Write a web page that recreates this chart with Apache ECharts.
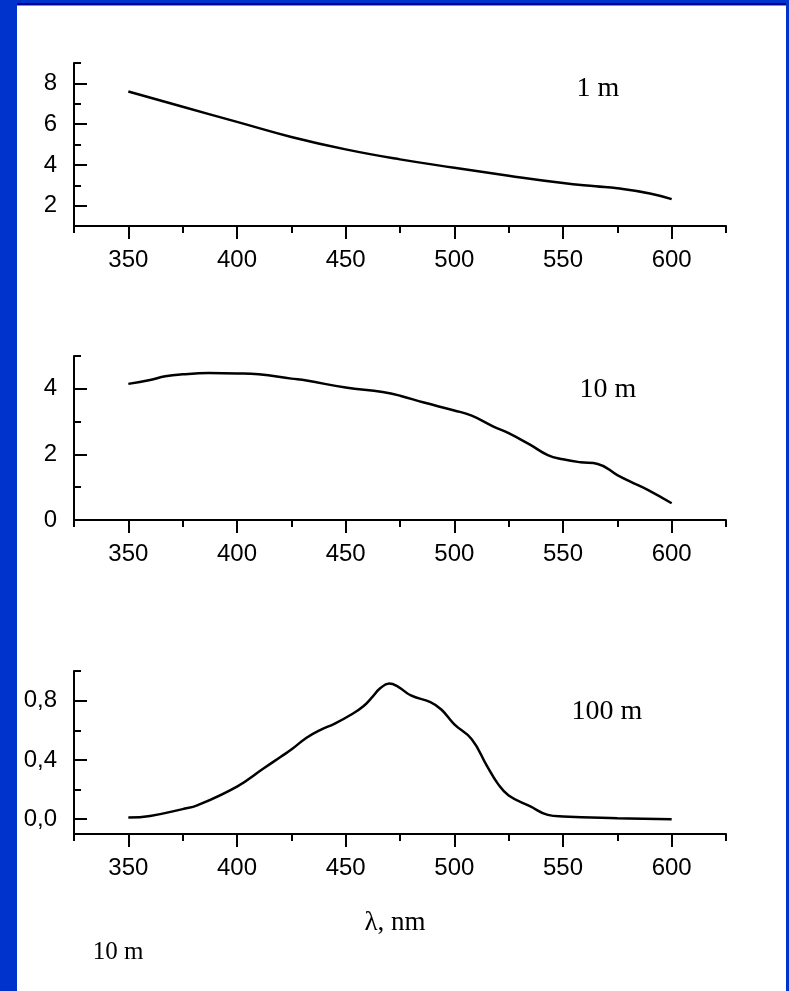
<!DOCTYPE html>
<html>
<head>
<meta charset="utf-8">
<script src="https://cdn.jsdelivr.net/npm/echarts@6/dist/echarts.min.js"></script>
<style>
  html, body { margin: 0; padding: 0; background: #ffffff; }
  #chart { width: 789px; height: 991px; }
</style>
</head>
<body>
<div id="chart"></div>
<script>
// Wavelength grid (nm) and spectral values at three depths
const lambda1m = [350, 375, 400, 425, 450, 475, 500, 525, 550, 565, 575, 590, 600];
const values1m = [7.60, 6.85, 6.11, 5.37, 4.76, 4.27, 3.86, 3.47, 3.11, 2.95, 2.85, 2.60, 2.32];

const lambda10m = [350, 360, 367, 375, 387, 400, 410, 425, 432, 450, 467, 475, 486, 500, 508, 518, 525, 535, 543, 550, 558, 566, 575, 581, 589, 600];
const values10m = [4.15, 4.27, 4.38, 4.44, 4.48, 4.47, 4.44, 4.31, 4.25, 4.04, 3.90, 3.79, 3.58, 3.34, 3.18, 2.85, 2.65, 2.29, 1.98, 1.85, 1.76, 1.71, 1.37, 1.17, 0.92, 0.51];

const lambda100m = [350, 360, 375, 382, 400, 412, 420, 425, 432, 438, 445, 453, 458, 462, 466, 470, 474, 480, 489, 494, 500, 508, 515, 520, 525, 535, 543, 550, 575, 600];
const values100m = [0.011, 0.022, 0.068, 0.095, 0.22, 0.34, 0.42, 0.47, 0.55, 0.60, 0.645, 0.71, 0.76, 0.82, 0.885, 0.915, 0.895, 0.835, 0.79, 0.74, 0.64, 0.54, 0.36, 0.24, 0.16, 0.086, 0.029, 0.018, 0.007, 0.0];

// Axis ticks
const xMajorTicks = [350, 400, 450, 500, 550, 600];
const xMinorTicks = [325, 375, 425, 475, 525, 575, 625];
const yMajor1m = [2, 4, 6, 8];
const yMinor1m = [3, 5, 7, 9];
const yMajor10m = [0, 2, 4];
const yMinor10m = [1, 3, 5];
const yMajor100m = [0, 0.4, 0.8];
const yMinor100m = [0.2, 0.6, 1.0];

const depthLabels = ['1 m', '10 m', '100 m'];

const panels = [
  { lam: lambda1m, val: values1m, yMin: 1, yMax: 9, yMajor: yMajor1m, yMinor: yMinor1m, fmt: v => String(v) },
  { lam: lambda10m, val: values10m, yMin: 0, yMax: 5, yMajor: yMajor10m, yMinor: yMinor10m, fmt: v => String(v) },
  { lam: lambda100m, val: values100m, yMin: -0.1, yMax: 1.0, yMajor: yMajor100m, yMinor: yMinor100m, fmt: v => v.toFixed(1).replace('.', ',') }
];

const gridBoxes = [
  { left: 74, top: 63, width: 652, height: 163 },
  { left: 74, top: 356, width: 652, height: 164 },
  { left: 74, top: 671, width: 652, height: 163 }
];

const INK = '#000000';
const SANS = '"Liberation Sans", Arial, Helvetica, sans-serif';
const SERIF = '"Liberation Serif", "Times New Roman", serif';

const grid = [], xAxis = [], yAxis = [], series = [];

panels.forEach((p, i) => {
  grid.push(Object.assign({ show: false }, gridBoxes[i]));

  // base x axis: line + short ticks
  xAxis.push({
    type: 'value', gridIndex: i, min: 325, max: 625, position: 'bottom',
    axisLine: { show: true, onZero: false, lineStyle: { color: INK, width: 2 } },
    axisTick: { show: true, customValues: xMinorTicks, length: 7, lineStyle: { color: INK, width: 2 } },
    axisLabel: { show: false },
    splitLine: { show: false }
  });
  // overlay x axis: long ticks + labels
  xAxis.push({
    type: 'value', gridIndex: i, min: 325, max: 625, position: 'bottom',
    axisLine: { show: false, onZero: false },
    axisTick: { show: true, customValues: xMajorTicks, length: 13, lineStyle: { color: INK, width: 2 } },
    axisLabel: { show: true, customValues: xMajorTicks, margin: 22, color: INK, fontSize: 24, fontFamily: SANS },
    splitLine: { show: false }
  });

  yAxis.push({
    type: 'value', gridIndex: i, min: p.yMin, max: p.yMax, position: 'left',
    axisLine: { show: true, onZero: false, lineStyle: { color: INK, width: 2 } },
    axisTick: { show: true, inside: true, customValues: p.yMinor, length: 7, lineStyle: { color: INK, width: 2 } },
    axisLabel: { show: false },
    splitLine: { show: false }
  });
  yAxis.push({
    type: 'value', gridIndex: i, min: p.yMin, max: p.yMax, position: 'left',
    axisLine: { show: false, onZero: false },
    axisTick: { show: true, inside: true, customValues: p.yMajor, length: 13, lineStyle: { color: INK, width: 2 } },
    axisLabel: { show: true, customValues: p.yMajor, margin: 17, color: INK, fontSize: 24, fontFamily: SANS, formatter: p.fmt },
    splitLine: { show: false }
  });

  series.push({
    type: 'line', name: depthLabels[i],
    xAxisIndex: i * 2, yAxisIndex: i * 2,
    data: p.lam.map((x, k) => [x, p.val[k]]),
    smooth: 0.45, showSymbol: false, silent: true,
    lineStyle: { color: INK, width: 2.5 }
  });
});

const graphic = [
  // slide frame
  { type: 'rect', z: -10, shape: { x: 0, y: 0, width: 17, height: 991 }, style: { fill: '#0033cc' } },
  { type: 'rect', z: -10, shape: { x: 0, y: 0, width: 789, height: 3 }, style: { fill: '#0033cc' } },
  { type: 'rect', z: -10, shape: { x: 17, y: 3, width: 769, height: 2 }, style: { fill: '#000099' } },
  { type: 'rect', z: -10, shape: { x: 17, y: 5, width: 769, height: 1 }, style: { fill: '#8888cc' } },
  { type: 'rect', z: -10, shape: { x: 786, y: 0, width: 3, height: 991 }, style: { fill: '#0033cc' } },
  // depth captions
  { type: 'text', x: 598, y: 89, style: { text: depthLabels[0], font: '28px ' + SERIF, fill: INK, textAlign: 'center', textVerticalAlign: 'middle' } },
  { type: 'text', x: 608, y: 390, style: { text: depthLabels[1], font: '28px ' + SERIF, fill: INK, textAlign: 'center', textVerticalAlign: 'middle' } },
  { type: 'text', x: 607, y: 712, style: { text: depthLabels[2], font: '28px ' + SERIF, fill: INK, textAlign: 'center', textVerticalAlign: 'middle' } },
  // axis title and footnote
  { type: 'text', x: 395, y: 923, style: { text: 'λ, nm', font: '27px ' + SERIF, fill: INK, textAlign: 'center', textVerticalAlign: 'middle' } },
  { type: 'text', x: 118, y: 952, style: { text: '10 m', font: '25px ' + SERIF, fill: INK, textAlign: 'center', textVerticalAlign: 'middle' } }
];

const chart = echarts.init(document.getElementById('chart'), null, { renderer: 'canvas' });
chart.setOption({
  backgroundColor: '#ffffff',
  animation: false,
  grid, xAxis, yAxis, series, graphic
});
</script>
</body>
</html>
